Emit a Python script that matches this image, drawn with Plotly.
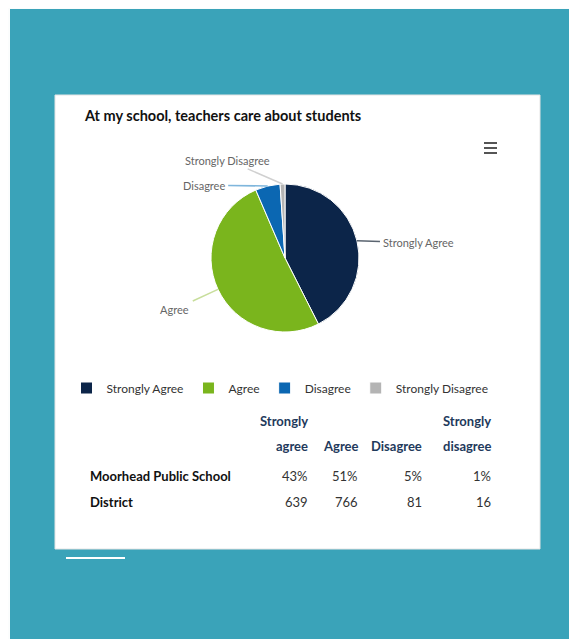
import math
import plotly.graph_objects as go

# ---------------- data ----------------
categories = ["Strongly Agree", "Agree", "Disagree", "Strongly Disagree"]
counts = [639, 766, 81, 16]
percents = [43, 51, 5, 1]
header_top = ["Strongly", "", "", "Strongly"]
header_bottom = ["agree", "Agree", "Disagree", "disagree"]
row_labels = ["Moorhead Public School", "District"]
title_text = "At my school, teachers care about students"

# ---------------- styles / layout ----------------
colors = ["#0c2549", "#7ab51d", "#0b67b2", "#b4b4b4"]
label_colors = ["#5a6470", "#c8de9c", "#7fb6dc", "#d0d0d0"]
label_offsets = [(62, 2), (-43, 20), (-64, -1), (-55, -24)]
col_right = [310, 360, 424, 493]   # right edges of value columns (px)
row_y = [476, 502]                 # table body rows (px)
head_y = [421, 446]                # header lines (px)
FONT = "Lato"

OFF = 8                 # page body margin of the html
W, H = 577 - OFF, 639 - OFF

def fx(px):
    return (px - OFF) / W

def fy(py):
    return 1 - (py - OFF) / H

cx, cy, r = 285, 258, 74

fig = go.Figure()
fig.add_trace(go.Pie(
    labels=categories, values=counts, sort=False, direction="clockwise", rotation=0,
    marker=dict(colors=colors, line=dict(color="white", width=1)),
    textinfo="none", hoverinfo="label+value+percent",
    domain=dict(x=[fx(cx - r), fx(cx + r)], y=[fy(cy + r), fy(cy - r)]),
))

annotations = []

# pie labels with leader lines, anchored at slice mid-angles
total = sum(counts)
cum = 0
for i, (cat, v) in enumerate(zip(categories, counts)):
    mid = (cum + v / 2) / total * 2 * math.pi
    cum += v
    tx = cx + r * math.sin(mid)
    ty = cy - r * math.cos(mid)
    ax, ay = label_offsets[i]
    annotations.append(dict(
        x=fx(tx), y=fy(ty), xref="paper", yref="paper", text=cat,
        showarrow=True, arrowhead=0, arrowwidth=1.5, arrowcolor=label_colors[i],
        ax=ax, ay=ay, standoff=0, startstandoff=2,
        font=dict(family=FONT, size=11, color="#666666"),
    ))

# title
annotations.append(dict(
    x=fx(82), y=fy(115), xref="paper", yref="paper", text=f"<b>{title_text}</b>",
    showarrow=False, xanchor="left", yanchor="middle",
    font=dict(family=FONT, size=14.5, color="#111111"),
))

# data table
def txt(x, y, s, anchor, size, color):
    annotations.append(dict(
        x=fx(x), y=fy(y), xref="paper", yref="paper", text=s, showarrow=False,
        xanchor=anchor, yanchor="middle",
        font=dict(family=FONT, size=size, color=color),
    ))

for j, (a, b) in enumerate(zip(header_top, header_bottom)):
    if a:
        txt(col_right[j], head_y[0], f"<b>{a}</b>", "right", 13, "#1f3a5c")
    if b:
        txt(col_right[j], head_y[1], f"<b>{b}</b>", "right", 13, "#1f3a5c")

row_values = [[f"{p}%" for p in percents], [str(c) for c in counts]]
for k, lab in enumerate(row_labels):
    txt(88, row_y[k], f"<b>{lab}</b>", "left", 13, "#111111")
    for j, val in enumerate(row_values[k]):
        txt(col_right[j], row_y[k], val, "right", 13, "#333333")

shapes = [
    dict(type="rect", xref="paper", yref="paper", x0=fx(10), x1=fx(577), y0=fy(639), y1=fy(9),
         fillcolor="#3aa3b9", line=dict(width=0), layer="below"),
    dict(type="rect", xref="paper", yref="paper", x0=fx(55), x1=fx(540), y0=fy(549), y1=fy(95),
         fillcolor="white", line=dict(color="#e4e4e4", width=1), layer="below"),
    dict(type="line", xref="paper", yref="paper", x0=fx(66), x1=fx(125), y0=fy(558), y1=fy(558),
         line=dict(color="white", width=2)),
]
for yy in (143, 148, 153):
    shapes.append(dict(type="line", xref="paper", yref="paper", x0=fx(484), x1=fx(497),
                       y0=fy(yy), y1=fy(yy), line=dict(color="#555555", width=2)))

fig.update_layout(
    width=W, height=H, margin=dict(l=0, r=0, t=0, b=0),
    paper_bgcolor="#fbfdfd", plot_bgcolor="white",
    showlegend=True,
    legend=dict(orientation="h", x=fx(280), xanchor="center", y=fy(388), yanchor="middle",
                font=dict(family=FONT, size=12, color="#333333"), itemclick=False,
                bgcolor="rgba(0,0,0,0)"),
    annotations=annotations, shapes=shapes,
)

fig.write_html("out.html")
